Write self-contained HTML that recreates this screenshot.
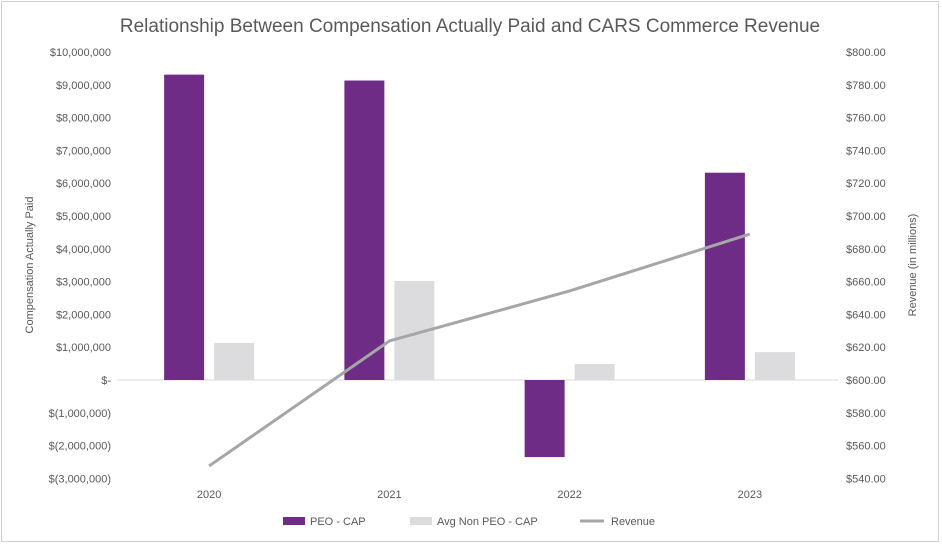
<!DOCTYPE html>
<html><head><meta charset="utf-8"><style>
body{margin:0;background:#fff;}
svg text{font-family:"Liberation Sans",sans-serif;fill:#595959;}
</style></head><body>
<svg id="chart" width="942" height="550" xmlns="http://www.w3.org/2000/svg">
<rect x="1.5" y="1.5" width="937" height="540" fill="#fff" stroke="#d0d0d0"/>
<text x="470" y="32" font-size="19" text-anchor="middle">Relationship Between Compensation Actually Paid and CARS Commerce Revenue</text>
<g id="axes"></g><g id="bars"></g><g id="line"></g>
<text transform="translate(33,265) rotate(-90)" font-size="11" text-anchor="middle">Compensation Actually Paid</text>
<text transform="translate(916,265) rotate(-90)" font-size="11" text-anchor="middle">Revenue (in millions)</text>
<g>
<rect x="283" y="517" width="22" height="8" fill="#6f2c87"/>
<text x="310" y="525" font-size="11">PEO - CAP</text>
<rect x="410" y="517" width="22" height="8" fill="#dcdcde"/>
<text x="437" y="525" font-size="11">Avg Non PEO - CAP</text>
<line x1="580" y1="521" x2="604" y2="521" stroke="#a6a6a6" stroke-width="3"/>
<text x="611" y="525" font-size="11">Revenue</text>
</g>
</svg>
<script>
const categories=["2020","2021","2022","2023"];
const peoCap=[9310000,9130000,-2350000,6320000];
const nonPeoCap=[1130000,3020000,490000,850000];
const revenue=[547.6,623.8,654.3,689.0];
const leftTicks=[10000000,9000000,8000000,7000000,6000000,5000000,4000000,3000000,2000000,1000000,0,-1000000,-2000000,-3000000];
const leftTickLabels=["$10,000,000","$9,000,000","$8,000,000","$7,000,000","$6,000,000","$5,000,000","$4,000,000","$3,000,000","$2,000,000","$1,000,000","$-","$(1,000,000)","$(2,000,000)","$(3,000,000)"];
const rightTicks=[800,780,760,740,720,700,680,660,640,620,600,580,560,540];

const NS="http://www.w3.org/2000/svg";
const yL=v=>380-(v/1e6)*32.8;
const yR=v=>380-(v-600)*1.64;
const plotL=117,plotR=838,band=(plotR-plotL)/categories.length;
const xC=i=>plotL+band*(i+0.5)+2;
function mk(tag,attrs,parent,txt){const e=document.createElementNS(NS,tag);for(const k in attrs)e.setAttribute(k,attrs[k]);if(txt!==undefined)e.textContent=txt;document.getElementById(parent).appendChild(e);return e;}
leftTicks.forEach((t,i)=>{const e=mk('text',{x:111,y:yL(t)+4,'font-size':11,'text-anchor':'end'},'axes',leftTickLabels[i]);

});
rightTicks.forEach(t=>{const e=mk('text',{x:846,y:yR(t)+4,'font-size':11},'axes','$'+t.toFixed(2));

});
const ax=mk('line',{x1:plotL,x2:plotR,y1:yL(0),y2:yL(0),stroke:'#d9d9d9'},'axes');


categories.forEach((c,i)=>{
const e=mk('text',{x:xC(i),y:498,'font-size':11,'text-anchor':'middle'},'axes',c);


const bw=40;
const v1=peoCap[i],y1=Math.min(yL(v1),yL(0)),h1=Math.abs(yL(v1)-yL(0));
const b1=mk('rect',{x:xC(i)-45,y:y1,width:bw,height:h1,fill:'#6f2c87'},'bars');


const v2=nonPeoCap[i],y2=Math.min(yL(v2),yL(0)),h2=Math.abs(yL(v2)-yL(0));
const b2=mk('rect',{x:xC(i)+5,y:y2,width:bw,height:h2,fill:'#dcdcde'},'bars');


});
const pts=revenue.map((v,i)=>xC(i)+','+yR(v)).join(' ');
const pl=mk('polyline',{points:pts,fill:'none',stroke:'#a6a6a6','stroke-width':3,'stroke-linejoin':'round'},'line');


</script>
</body></html>
